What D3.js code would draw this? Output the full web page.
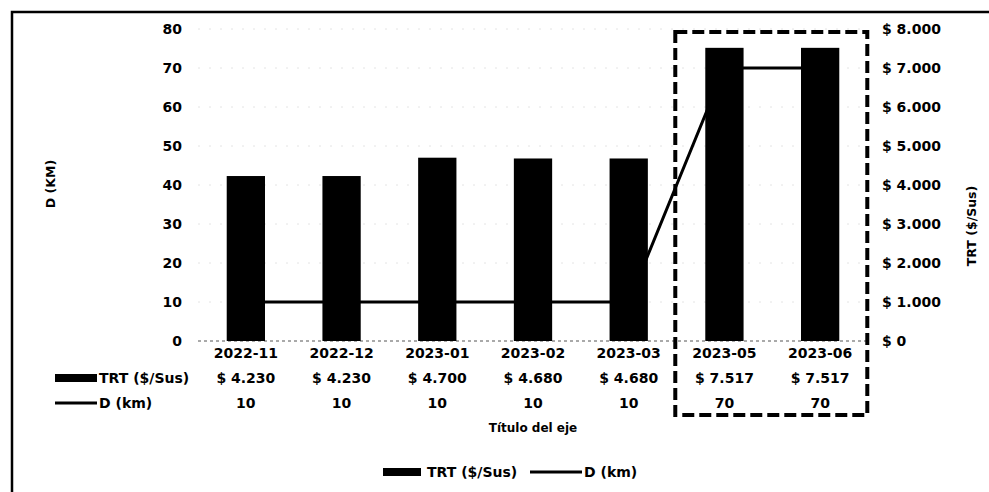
<!DOCTYPE html>
<html>
<head>
<meta charset="utf-8">
<script src="https://cdn.jsdelivr.net/npm/d3@7/dist/d3.min.js"></script>
<style>
  html, body { margin: 0; padding: 0; background: #fff; }
  svg { display: block; }
  text { font-family: "DejaVu Sans", sans-serif; font-weight: bold; fill: #000; }
</style>
</head>
<body>
<svg id="chart" width="989" height="492"></svg>
<script>
// ---- data ----
const categories = ["2022-11", "2022-12", "2023-01", "2023-02", "2023-03", "2023-05", "2023-06"];
const trtValues = [4230, 4230, 4700, 4680, 4680, 7517, 7517];
const dValues = [10, 10, 10, 10, 10, 70, 70];
const leftTicks = [0, 10, 20, 30, 40, 50, 60, 70, 80];
const rightTicks = [0, 1000, 2000, 3000, 4000, 5000, 6000, 7000, 8000];
const highlighted = ["2023-05", "2023-06"];
const seriesNames = ["TRT ($/Sus)", "D (km)"];

const svg = d3.select("#chart");
const plot = { left: 198, right: 868, top: 29, bottom: 341 };
const FS = 14;

const x = d3.scaleBand().domain(categories).range([plot.left, plot.right])
  .paddingInner(0.6).paddingOuter(0.3);
const yL = d3.scaleLinear().domain([0, 80]).range([plot.bottom, plot.top]);
const yR = d3.scaleLinear().domain([0, 8000]).range([plot.bottom, plot.top]);
const fmtMoney = v => "$ " + d3.format(",")(v).replace(/,/g, ".");

// frame
svg.append("path").attr("d", "M12,492 V12 H989")
  .attr("fill", "none").attr("stroke", "#000").attr("stroke-width", 2.5);

// gridlines (faint)
svg.append("g").selectAll("line").data(leftTicks.filter(d => d > 0)).join("line")
  .attr("x1", plot.left).attr("x2", plot.right)
  .attr("y1", d => yL(d)).attr("y2", d => yL(d))
  .attr("stroke", "#e4e4e4").attr("stroke-width", 1).attr("stroke-dasharray", "2,9");

// baseline
svg.append("line").attr("x1", plot.left).attr("x2", plot.right)
  .attr("y1", yL(0)).attr("y2", yL(0))
  .attr("stroke", "#555").attr("stroke-width", 1).attr("stroke-dasharray", "3,3");

// line series (behind bars)
const line = d3.line().x((d, i) => x(categories[i]) + x.bandwidth() / 2).y(d => yL(d));
svg.append("path").datum(dValues).attr("d", line)
  .attr("fill", "none").attr("stroke", "#000").attr("stroke-width", 3);

// bars
svg.append("g").selectAll("rect").data(trtValues).join("rect")
  .attr("x", (d, i) => x(categories[i]))
  .attr("width", x.bandwidth())
  .attr("y", d => yR(d))
  .attr("height", d => yR(0) - yR(d))
  .attr("fill", "#000");

// left axis
const axL = svg.append("g").attr("transform", `translate(${plot.left},0)`)
  .call(d3.axisLeft(yL).tickValues(leftTicks).tickSize(0).tickPadding(16));
axL.select(".domain").remove();
axL.selectAll("text").attr("font-size", FS).attr("font-family", "DejaVu Sans").attr("font-weight", "bold");

// right axis
const axR = svg.append("g").attr("transform", `translate(${plot.right},0)`)
  .call(d3.axisRight(yR).tickValues(rightTicks).tickFormat(fmtMoney).tickSize(0).tickPadding(14));
axR.select(".domain").remove();
axR.selectAll("text").attr("font-size", FS).attr("font-family", "DejaVu Sans").attr("font-weight", "bold");

// axis titles
svg.append("text").attr("transform", "translate(55,184) rotate(-90)")
  .attr("text-anchor", "middle").attr("font-size", 12.5).text("D (KM)");
svg.append("text").attr("transform", "translate(976,226) rotate(-90)")
  .attr("text-anchor", "middle").attr("font-size", 12.5).text("TRT ($/Sus)");

// data table
const cx = c => x(c) + x.bandwidth() / 2;
svg.append("g").selectAll("text").data(categories).join("text")
  .attr("x", d => cx(d)).attr("y", 358).attr("text-anchor", "middle")
  .attr("font-size", FS).text(d => d);
svg.append("g").selectAll("text").data(trtValues).join("text")
  .attr("x", (d, i) => cx(categories[i])).attr("y", 383).attr("text-anchor", "middle")
  .attr("font-size", FS).text(d => fmtMoney(d));
svg.append("g").selectAll("text").data(dValues).join("text")
  .attr("x", (d, i) => cx(categories[i])).attr("y", 408).attr("text-anchor", "middle")
  .attr("font-size", FS).text(d => d);

// table row keys
svg.append("rect").attr("x", 55).attr("y", 374).attr("width", 42).attr("height", 8).attr("fill", "#000");
svg.append("text").attr("x", 99).attr("y", 383).attr("font-size", FS).text(seriesNames[0]);
svg.append("line").attr("x1", 55).attr("x2", 97).attr("y1", 403).attr("y2", 403)
  .attr("stroke", "#000").attr("stroke-width", 3);
svg.append("text").attr("x", 99).attr("y", 408).attr("font-size", FS).text(seriesNames[1]);

// x axis title
svg.append("text").attr("x", (plot.left + plot.right) / 2).attr("y", 432)
  .attr("text-anchor", "middle").attr("font-size", 12).text("Título del eje");

// bottom legend
svg.append("rect").attr("x", 383).attr("y", 468).attr("width", 38).attr("height", 8).attr("fill", "#000");
svg.append("text").attr("x", 427).attr("y", 477).attr("font-size", FS).text(seriesNames[0]);
svg.append("line").attr("x1", 530).attr("x2", 582).attr("y1", 472).attr("y2", 472)
  .attr("stroke", "#000").attr("stroke-width", 3);
svg.append("text").attr("x", 584).attr("y", 477).attr("font-size", FS).text(seriesNames[1]);

// dashed highlight box
const hx0 = x(highlighted[0]) - 30;
const hx1 = x(highlighted[highlighted.length - 1]) + x.bandwidth() + 28;
svg.append("rect").attr("x", hx0).attr("y", 32).attr("width", hx1 - hx0).attr("height", 383)
  .attr("fill", "none").attr("stroke", "#000").attr("stroke-width", 4)
  .attr("stroke-dasharray", "12,5");
</script>
</body>
</html>
